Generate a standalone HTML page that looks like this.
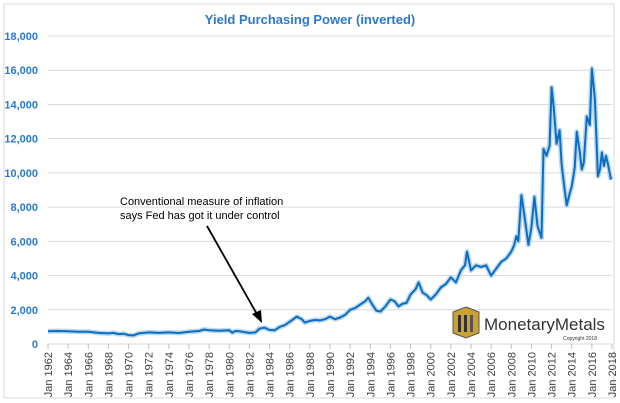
<!DOCTYPE html>
<html><head><meta charset="utf-8"><style>
body{margin:0;background:#fff;}
svg{display:block;font-family:"Liberation Sans",sans-serif;}
</style></head><body>
<svg id="chart" width="620" height="403">
<rect x="4" y="4" width="610" height="394" fill="#fff" stroke="#d9d9d9"/>
<text x="310" y="24" text-anchor="middle" font-size="13" font-weight="bold" fill="#2a7ac8">Yield Purchasing Power (inverted)</text>
<g id="grid"></g><g id="yticks"></g><g id="xticks"></g>
<path id="glow" fill="none" stroke="#bcd7f0" stroke-width="5" stroke-linejoin="round"/>
<path id="line" fill="none" stroke="#0a6fc2" stroke-width="2" stroke-linejoin="round"/>
<text font-size="11" fill="#000"><tspan x="120" y="205">Conventional measure of inflation</tspan><tspan x="120" y="219">says Fed has got it under control</tspan></text>
<line x1="207" y1="226" x2="258" y2="316" stroke="#000" stroke-width="1.8"/>
<polygon points="262,323 252,314 261,310" fill="#000"/>
<g>
<polygon points="466,307 479,312 479,333 466,338 453,333 453,312" fill="#c9a233" stroke="#555"/>
<rect x="458" y="315" width="3" height="17" fill="#333"/><rect x="464" y="315" width="3" height="17" fill="#333"/><rect x="470" y="315" width="3" height="17" fill="#555"/>
<text x="484" y="330" font-size="17" fill="#333">MonetaryMetals</text>
<text x="597" y="340" font-size="5" fill="#333" text-anchor="end">Copyright 2018</text>
</g>
</svg>
<script>
const yTickValues=[0,2000,4000,6000,8000,10000,12000,14000,16000,18000];
const xTickYears=[1962,1964,1966,1968,1970,1972,1974,1976,1978,1980,1982,1984,1986,1988,1990,1992,1994,1996,1998,2000,2002,2004,2006,2008,2010,2012,2014,2016,2018];
const years=[1962,1963,1964,1965,1966,1967,1968,1968.5,1969,1969.5,1970,1970.5,1971,1972,1973,1974,1975,1976,1977,1977.5,1978,1979,1980,1980.3,1980.6,1981,1982,1982.6,1983,1983.5,1984,1984.5,1985,1985.5,1986,1986.7,1987.2,1987.5,1988,1988.5,1989,1989.5,1990,1990.5,1991,1991.5,1992,1992.5,1993,1993.5,1993.8,1994.2,1994.6,1995,1995.5,1996,1996.4,1996.8,1997.2,1997.6,1998,1998.5,1998.8,1999.2,1999.6,2000,2000.5,2001,2001.5,2002,2002.5,2003,2003.4,2003.6,2004,2004.5,2005,2005.5,2006,2006.5,2007,2007.5,2008,2008.3,2008.5,2008.7,2009,2009.3,2009.7,2010,2010.3,2010.6,2011,2011.2,2011.5,2011.8,2012,2012.2,2012.5,2012.8,2013,2013.3,2013.5,2013.8,2014,2014.3,2014.5,2014.8,2015,2015.2,2015.5,2015.8,2016,2016.3,2016.6,2016.8,2017,2017.2,2017.4,2017.6,2017.9];
const values=[750,760,740,720,720,650,620,650,580,600,520,500,620,680,650,680,640,720,760,850,800,780,800,660,760,740,650,680,900,950,820,800,1000,1100,1300,1600,1450,1250,1350,1400,1380,1450,1600,1450,1550,1700,2000,2100,2300,2500,2700,2300,1950,1900,2200,2600,2500,2200,2350,2400,2900,3200,3600,3000,2850,2600,2900,3300,3500,3900,3600,4300,4600,5400,4300,4600,4500,4600,4000,4400,4800,5000,5400,5800,6300,6000,8700,7500,5800,6800,8600,6900,6200,11400,11000,11600,15000,13900,11700,12500,10500,9000,8100,8800,9200,10300,12400,11200,10200,10600,13300,12800,16100,14300,9800,10200,11200,10400,11000,10500,9600];
const X0=48,X1=612,Y0=344,Y1=36;
const xs=y=>X0+(y-1962)/(2018-1962)*(X1-X0);
const ys=v=>Y0-v/18000*(Y0-Y1);
const NS='http://www.w3.org/2000/svg';
const grid=document.getElementById('grid'),yt=document.getElementById('yticks'),xt=document.getElementById('xticks');
yTickValues.forEach(v=>{
  if(v>0){const l=document.createElementNS(NS,'line');
  l.setAttribute('x1',X0);l.setAttribute('x2',X1);l.setAttribute('y1',ys(v));l.setAttribute('y2',ys(v));
  l.setAttribute('stroke','#d9d9d9');
  
  
  grid.appendChild(l);}
  const t=document.createElementNS(NS,'text');
  t.setAttribute('x',38);t.setAttribute('y',ys(v)+4);t.setAttribute('text-anchor','end');
  t.setAttribute('font-size','11');t.setAttribute('font-weight','bold');t.setAttribute('fill','#2a7ac8');
  t.textContent=v.toLocaleString('en-US');
  
  
  yt.appendChild(t);
});
const ax=document.createElementNS(NS,'line');
ax.setAttribute('x1',X0);ax.setAttribute('x2',X1);ax.setAttribute('y1',Y0);ax.setAttribute('y2',Y0);ax.setAttribute('stroke','#d9d9d9');


grid.appendChild(ax);
xTickYears.forEach(y=>{
  const x=xs(y);
  const k=document.createElementNS(NS,'line');
  k.setAttribute('x1',x);k.setAttribute('x2',x);k.setAttribute('y1',Y0);k.setAttribute('y2',Y0+5);k.setAttribute('stroke','#bfbfbf');
  
  
  xt.appendChild(k);
  const t=document.createElementNS(NS,'text');
  t.setAttribute('transform','translate('+(x+4)+','+(Y0+8)+') rotate(-90)');
  t.setAttribute('text-anchor','end');t.setAttribute('font-size','11');t.setAttribute('fill','#404040');
  t.textContent='Jan '+y;
  
  
  xt.appendChild(t);
});
const d=years.map((y,i)=>(i?'L':'M')+xs(y).toFixed(1)+','+ys(values[i]).toFixed(1)).join('');
document.getElementById('line').setAttribute('d',d);
document.getElementById('glow').setAttribute('d',d);
</script>
</body></html>
